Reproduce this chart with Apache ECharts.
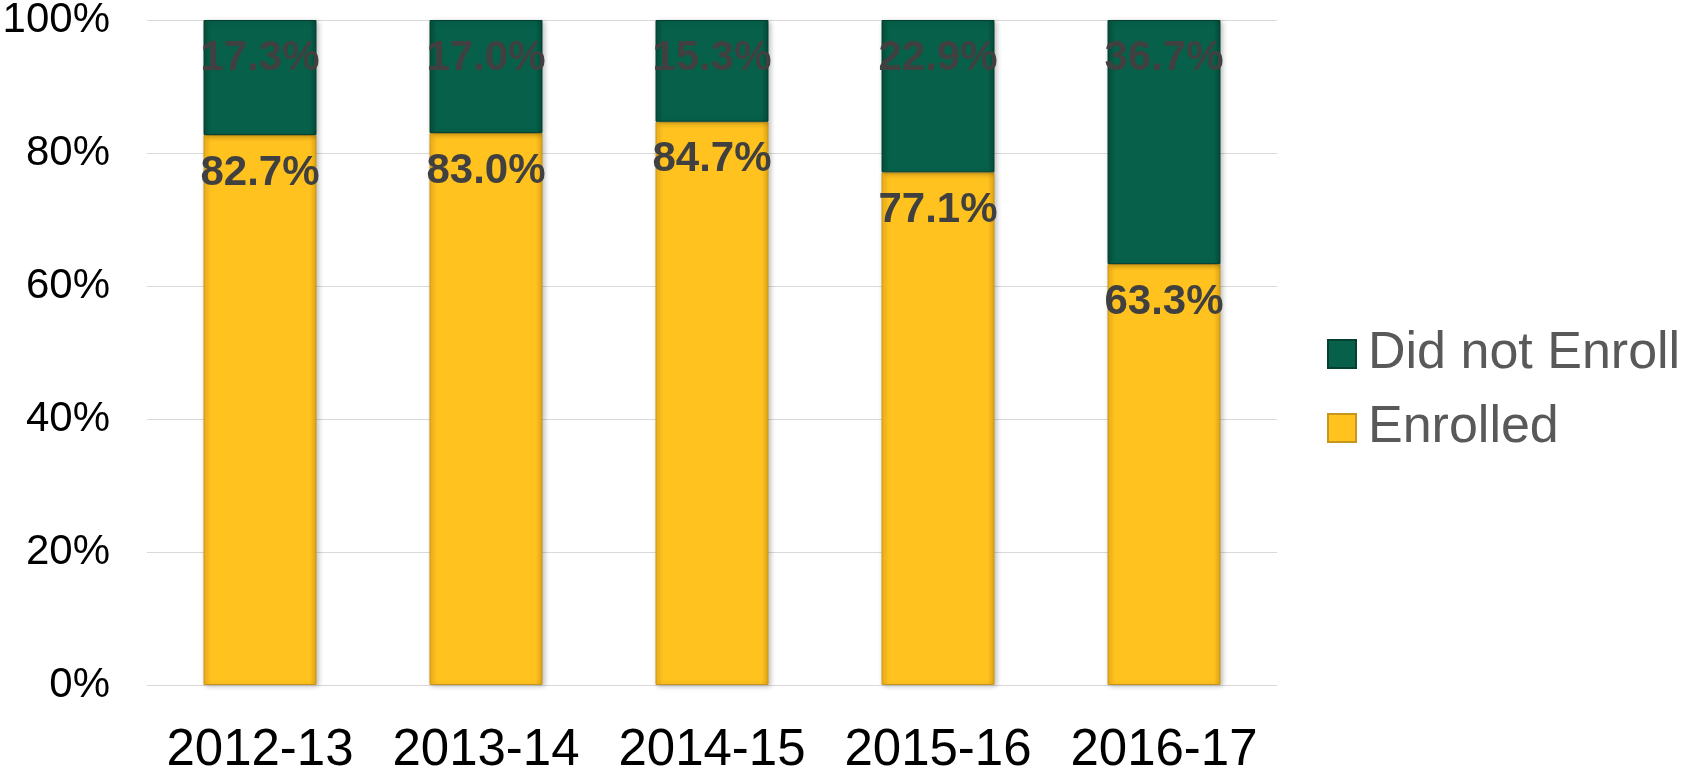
<!DOCTYPE html>
<html>
<head>
<meta charset="utf-8">
<script src="https://cdn.jsdelivr.net/npm/echarts@6/dist/echarts.min.js"></script>
<style>
html,body{margin:0;padding:0;background:#fff;}
#chart{width:1685px;height:771px;}
</style>
</head>
<body>
<div id="chart"></div>
<script>
var categories = ['2012-13', '2013-14', '2014-15', '2015-16', '2016-17'];
var enrolled = [82.7, 83.0, 84.7, 77.1, 63.3];
var didNotEnroll = [17.3, 17.0, 15.3, 22.9, 36.7];
var yTicks = [0, 20, 40, 60, 80, 100];

var FONT = "'Liberation Sans', Arial, sans-serif";
var chart = echarts.init(document.getElementById('chart'), null, {renderer: 'canvas'});

function labelCfg() {
  return {
    show: true,
    position: 'insideTop',
    distance: 17,
    color: '#404040',
    fontFamily: FONT,
    fontWeight: 'bold',
    fontSize: 42,
    lineHeight: 42,
    formatter: function (p) { return p.value.toFixed(1) + '%'; }
  };
}

chart.setOption({
  backgroundColor: '#ffffff',
  animation: false,
  grid: {left: 147, right: 408, top: 20, bottom: 86, containLabel: false, outerBoundsMode: 'none'},
  legend: {
    orient: 'vertical',
    left: 1322,
    top: 323,
    itemWidth: 28,
    itemHeight: 28,
    itemGap: 22,
    icon: 'rect',
    data: ['Did not Enroll', 'Enrolled'],
    textStyle: {fontFamily: FONT, fontSize: 52, lineHeight: 52, color: '#595959', padding: [0, 0, 0, 7]}
  },
  xAxis: {
    type: 'category',
    data: categories,
    axisTick: {show: false},
    axisLine: {show: true, lineStyle: {color: '#d9d9d9', width: 1}},
    axisLabel: {interval: 0, hideOverlap: false, fontFamily: FONT, fontSize: 51, lineHeight: 52, color: '#000000', margin: 40}
  },
  yAxis: {
    type: 'value',
    min: yTicks[0],
    max: yTicks[yTicks.length - 1],
    interval: 20,
    axisLine: {show: false},
    axisTick: {show: false},
    splitLine: {lineStyle: {color: '#d9d9d9', width: 1}},
    axisLabel: {fontFamily: FONT, fontSize: 42, color: '#000000', margin: 37,
      formatter: function (v) { return v + '%'; }}
  },
  series: [
    {
      name: 'Enrolled',
      type: 'bar',
      stack: 'total',
      barWidth: '50%',
      data: enrolled,
      itemStyle: {
        color: {type: 'linear', x: 0, y: 0, x2: 1, y2: 0, colorStops: [
          {offset: 0, color: '#F2B31A'}, {offset: 0.06, color: '#FFC21F'},
          {offset: 0.94, color: '#FFC21F'}, {offset: 1, color: '#E0A514'}]},
        borderColor: '#C8961A', borderWidth: 1,
        shadowBlur: 5, shadowColor: 'rgba(0,0,0,0.25)', shadowOffsetX: 2, shadowOffsetY: 1
      },
      label: labelCfg()
    },
    {
      name: 'Did not Enroll',
      type: 'bar',
      stack: 'total',
      barWidth: '50%',
      data: didNotEnroll,
      itemStyle: {
        color: {type: 'linear', x: 0, y: 0, x2: 1, y2: 0, colorStops: [
          {offset: 0, color: '#054E3C'}, {offset: 0.06, color: '#06604A'},
          {offset: 0.94, color: '#06604A'}, {offset: 1, color: '#044A39'}]},
        borderColor: '#03402F', borderWidth: 1,
        shadowBlur: 5, shadowColor: 'rgba(0,0,0,0.25)', shadowOffsetX: 2, shadowOffsetY: 1
      },
      label: labelCfg()
    }
  ]
});
</script>
</body>
</html>
